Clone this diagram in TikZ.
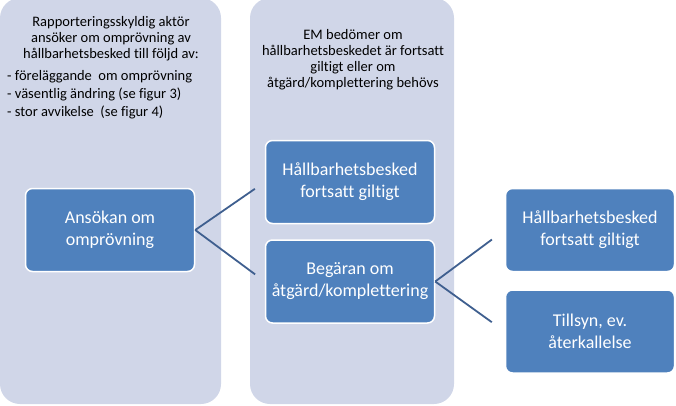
\documentclass[tikz,border=0pt]{standalone}
\usepackage{fontspec}
\setmainfont{Carlito}[Ligatures=NoCommon]
\usetikzlibrary{positioning}
\definecolor{panelfill}{HTML}{D0D6E8}
\definecolor{boxblue}{HTML}{4F81BD}
\definecolor{linkblue}{HTML}{3F5F8F}
\tikzset{
  panel/.style={fill=panelfill,rounded corners=20pt},
  stepbox/.style={draw=white,line width=1.5pt,fill=boxblue,rounded corners=7pt,text=white,align=center,
    font=\fontsize{18}{22}\selectfont,minimum width=169pt,minimum height=83pt,inner sep=2pt},
  head/.style={align=center,font=\fontsize{14.5}{16}\selectfont,inner sep=0pt},
  bullets/.style={align=left,font=\fontsize{14.5}{18}\selectfont,inner sep=0pt},
  link/.style={draw=linkblue,line width=1.8pt}
}

\begin{document}
\begin{tikzpicture}[x=1pt,y=-1pt,node distance=15pt]
  \useasboundingbox (0,0) rectangle (676,405);
  % background columns
  \fill[panel] (0,-2) rectangle (221,404);
  \fill[panel] (250,-2) rectangle (454,404);
  \node[head] (lhead) at (111,39) {Rapporteringsskyldig aktör\\ansöker om omprövning av\\hållbarhetsbesked till följd av:};
  \node[bullets,anchor=west] (llist) at (7,95) {- föreläggande\ \ om omprövning\\- väsentlig ändring (se figur 3)\\- stor avvikelse\ \ (se figur 4)};
  \node[head] (mhead) at (353,60) {EM bedömer om\\hållbarhetsbeskedet är fortsatt\\giltigt eller om\\åtgärd/komplettering behövs};
  % steps
  \node[stepbox] (ans) at (110,230) {Ansökan om\\omprövning};
  \node[stepbox] (giltig) at (350,182) {Hållbarhetsbesked\\fortsatt giltigt};
  \node[stepbox,below=of giltig] (begaran) {Begäran om\\åtgärd/komplettering};
  \node[stepbox] (giltig2) at (590,230) {Hållbarhetsbesked\\fortsatt giltigt};
  \node[stepbox,below=17pt of giltig2] (tillsyn) {Tillsyn, ev.\\återkallelse};
  \draw[link,shorten >=12pt] (ans.east) -- (giltig.west);
  \draw[link,shorten >=12pt] (ans.east) -- (begaran.west);
  \draw[link,shorten >=16pt] (begaran.east) -- (giltig2.west);
  \draw[link,shorten >=16pt] (begaran.east) -- (tillsyn.west);
\end{tikzpicture}
\end{document}
